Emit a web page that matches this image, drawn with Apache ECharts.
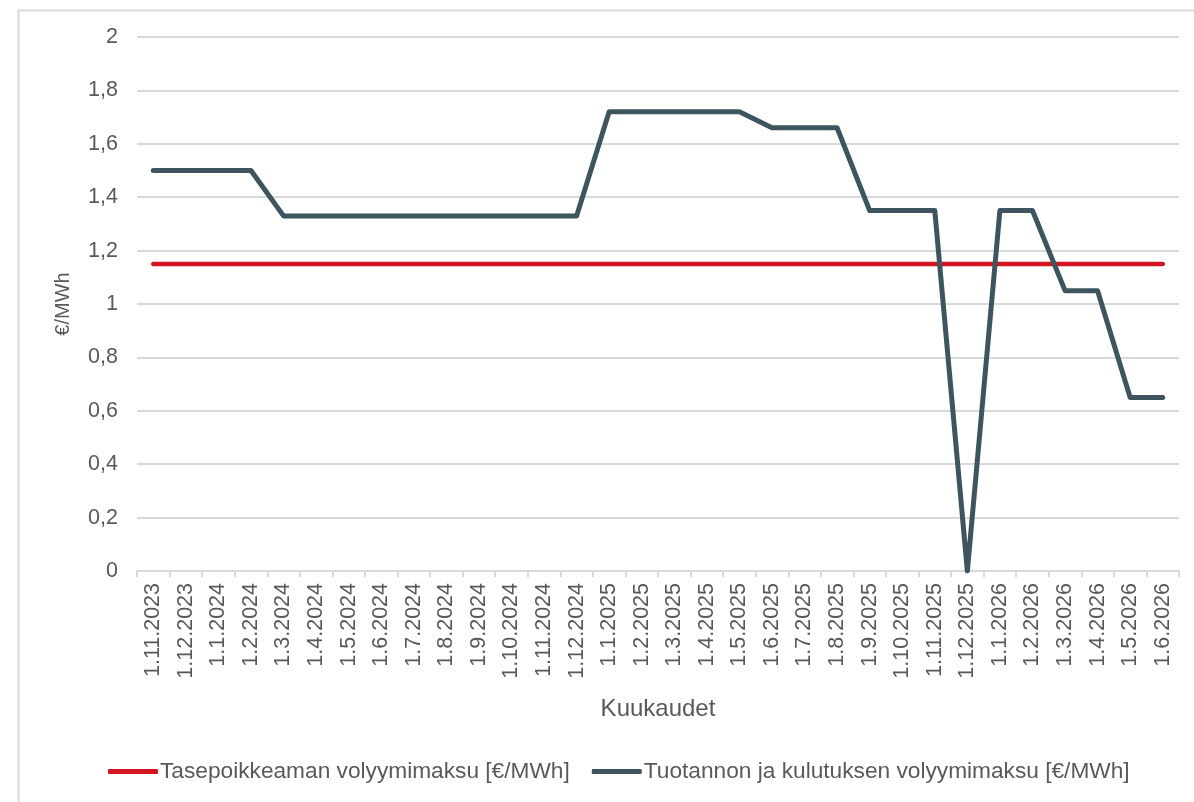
<!DOCTYPE html>
<html>
<head>
<meta charset="utf-8">
<script src="https://cdn.jsdelivr.net/npm/echarts@6/dist/echarts.min.js"></script>
<style>
html,body{margin:0;padding:0;background:#fff;}
#chart{width:1194px;height:802px;}
</style>
</head>
<body>
<div id="chart"></div>
<script>
const categories = ["1.11.2023","1.12.2023","1.1.2024","1.2.2024","1.3.2024","1.4.2024","1.5.2024","1.6.2024","1.7.2024","1.8.2024","1.9.2024","1.10.2024","1.11.2024","1.12.2024","1.1.2025","1.2.2025","1.3.2025","1.4.2025","1.5.2025","1.6.2025","1.7.2025","1.8.2025","1.9.2025","1.10.2025","1.11.2025","1.12.2025","1.1.2026","1.2.2026","1.3.2026","1.4.2026","1.5.2026","1.6.2026"];
const tasepoikkeama = [1.15,1.15,1.15,1.15,1.15,1.15,1.15,1.15,1.15,1.15,1.15,1.15,1.15,1.15,1.15,1.15,1.15,1.15,1.15,1.15,1.15,1.15,1.15,1.15,1.15,1.15,1.15,1.15,1.15,1.15,1.15,1.15];
const tuotantoKulutus = [1.5,1.5,1.5,1.5,1.33,1.33,1.33,1.33,1.33,1.33,1.33,1.33,1.33,1.33,1.72,1.72,1.72,1.72,1.72,1.66,1.66,1.66,1.35,1.35,1.35,0,1.35,1.35,1.05,1.05,0.65,0.65];
const seriesNames = ["Tasepoikkeaman volyymimaksu [€/MWh]","Tuotannon ja kulutuksen volyymimaksu [€/MWh]"];
const yTitle = "€/MWh";
const xTitle = "Kuukaudet";

const font = "Liberation Sans, Arial, sans-serif";
const txt = "#595959";
const chart = echarts.init(document.getElementById('chart'), null, {renderer:'canvas'});
chart.setOption({
  animation:false,
  backgroundColor:'#fff',
  textStyle:{fontFamily:font},
  graphic:[{type:'polyline',shape:{points:[[18.5,802],[18.5,10.5],[1194,10.5]]},style:{stroke:'#d9d9d9',lineWidth:2,fill:null},silent:true}],
  grid:{left:137,right:15,top:37,bottom:231,containLabel:false},
  legend:{
    bottom:14,left:103,
    itemWidth:50,itemHeight:5,itemGap:22,
    icon:'roundRect',
    textStyle:{fontSize:22.7,color:txt,fontFamily:font,padding:[0,0,0,-3]},
    data:seriesNames
  },
  xAxis:{
    type:'category',data:categories,boundaryGap:true,
    name:xTitle,nameLocation:'middle',nameGap:126,
    nameTextStyle:{fontSize:24,color:txt,fontFamily:font},
    axisLine:{lineStyle:{color:'#d9d9d9',width:2}},
    axisTick:{show:true,length:6,lineStyle:{color:'#d9d9d9',width:2},alignWithLabel:false},
    axisLabel:{rotate:90,fontSize:21.5,color:txt,fontFamily:font,interval:0,margin:12}
  },
  yAxis:{
    type:'value',min:0,max:2,interval:0.2,
    name:yTitle,nameLocation:'middle',nameGap:64,nameRotate:90,
    nameTextStyle:{fontSize:20,color:txt,fontFamily:font},
    axisLine:{show:false},axisTick:{show:false},
    splitLine:{lineStyle:{color:'#d9d9d9',width:2}},
    axisLabel:{fontSize:21.5,color:txt,fontFamily:font,margin:19,
      formatter:v=>String(Math.round(v*10)/10).replace('.',',')}
  },
  series:[
    {name:seriesNames[0],type:'line',data:tasepoikkeama,symbol:'none',
     lineStyle:{color:'#d4141e',width:4.5,cap:'round'},itemStyle:{color:'#d4141e'}},
    {name:seriesNames[1],type:'line',data:tuotantoKulutus,symbol:'none',
     lineStyle:{color:'#3e5560',width:5,cap:'round',join:'round'},itemStyle:{color:'#3e5560'}}
  ]
});
</script>
</body>
</html>
